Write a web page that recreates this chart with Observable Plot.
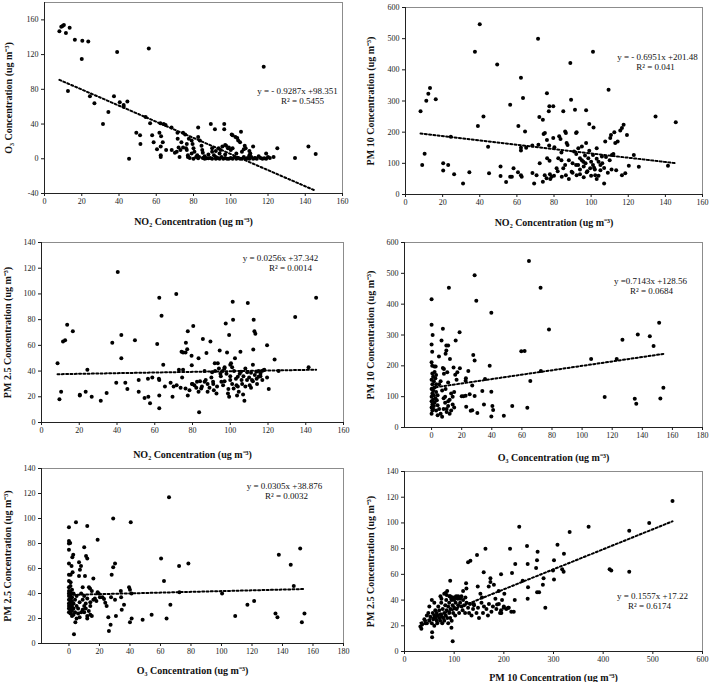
<!DOCTYPE html>
<html>
<head>
<meta charset="utf-8">
<script src="https://cdn.jsdelivr.net/npm/d3@7"></script>
<script src="https://cdn.jsdelivr.net/npm/@observablehq/plot@0.6"></script>
<style>
  body { margin: 0; background: white; }
  #fig { position: relative; width: 710px; height: 682px; background: white; }
  #fig > svg { position: absolute; overflow: visible; }
  #fig text { font-family: "Liberation Serif", "Times New Roman", Times, serif; }
</style>
</head>
<body>
<div id="fig"></div>
<script>
// ---------- DATA ----------
const no2_o3 = [[8,147],[9,152],[9.7,153],[10.4,154],[11.5,145],[13.5,151],[16.3,137],[20.3,136],[23.5,135],[20,115],[39,123],[56,127],[117.7,106],[12.6,78],[24.4,72],[26.8,64],[37.3,72],[40.4,65],[42.5,62],[42.5,60],[44.5,66],[34.3,54],[54.3,48],[56.7,41],[31.4,40],[49.3,30],[51.3,27],[51.5,17],[45.4,0],[57.8,27],[58.6,19],[60.4,11],[61.7,30],[62.6,26],[62.4,14],[62.4,4],[62.4,2],[63.5,19],[65.3,10],[62.2,41],[64,40],[65,39],[68.2,36],[68.3,10],[70,7],[71.4,30],[71.5,23],[72,13],[72.5,2],[73.5,19],[74.4,13],[74.4,30],[75.5,28],[76.4,17],[76.4,10],[77,4],[77,2],[77.5,23],[79,21],[79.5,17],[80,12],[80.5,8],[81.4,2],[82.5,0.5],[82.5,36],[82.5,25],[83.4,21],[84.3,15],[84.7,10],[86,3],[87,0.5],[88,0.5],[89.3,40],[91.5,34],[90,8],[91,4],[92,2],[93.5,12],[94.5,10],[95.5,14],[96.5,40],[96.5,34],[97,16],[97.5,15],[98.5,12],[100.5,28],[101,27],[102.5,25],[103.5,24],[104,21],[105,19],[105.5,31],[107,11],[107.5,15],[110,4],[110.5,6],[113,0.5],[115,3],[118,0.5],[119,6],[125,12],[134.5,1],[141.7,14],[145.6,5.5],[78,1],[80,0],[83,2],[85,1],[86,0],[89,1],[90,0],[92,0],[93,1],[94,0],[95,2],[96,0],[97,1],[98,0],[99,0],[100,1],[101,0],[102,2],[103,0],[104,1],[105,0],[106,0],[107,2],[108,0],[109,1],[110,0],[111,2],[112,0],[113,1],[114,0],[116,1],[117,0],[119,0],[120,2],[121,1],[123,2],[88,5],[90,12],[92,9],[94,6],[99,13],[100,10],[101,12],[103,6],[106,8],[108,12],[110,9],[112,14],[97,5],[85,7],[82,4],[79,6],[76,12],[73,10],[71,8]];

const no2_pm10 = [[8.1,267],[9,95],[10.3,131],[11.2,301],[12.3,323],[13.2,342],[16.3,306],[20.3,100],[20.3,77],[23,95],[24.4,185],[26.2,65],[31,35],[34.4,71],[37.4,458],[40,546],[39,220],[42,250],[44.5,153],[45,68],[49.4,417],[51.2,90],[51.2,59],[54.2,40],[56.4,288],[56.4,57],[57.3,57],[58.2,84],[60.6,71],[60.8,220],[62.2,375],[62.2,150],[62.2,141],[62.2,62],[62.6,57],[63.3,310],[64.4,202],[65,150],[71.4,500],[68.4,69],[69.3,35],[70.6,62],[72.1,249],[72.3,100],[74,240],[71.6,160],[68.3,157],[74.4,194],[75.1,197],[76.2,325],[76.2,175],[77.4,157],[77.2,267],[77.5,283],[79.6,283],[76.3,116],[77.6,108],[74,41],[75,62],[76,52],[77.8,65],[78.7,57],[79.6,181],[80.2,152],[81.4,84],[82.3,116],[82.8,187],[83.5,178],[84,135],[85,267],[86,202],[86.4,197],[86.8,165],[87.3,159],[85,84],[84.2,57],[86.4,62],[89.2,304],[88.8,422],[89.5,73],[90.8,138],[91.3,272],[91.9,197],[92.2,200],[91.9,95],[92.2,62],[93.1,148],[94,116],[95,154],[95.8,105],[96.7,125],[97.3,270],[97.3,165],[97.6,71],[98.5,116],[99,226],[99.5,84],[101,127],[101.3,215],[101,458],[101.6,86],[102.2,62],[103,148],[104,105],[105,78],[105.8,122],[107,35],[107.6,170],[109.4,336],[110.3,181],[110.7,191],[111.2,127],[112.5,200],[113,165],[113.5,78],[114.3,170],[115.7,205],[116.6,213],[117.5,224],[116.6,62],[118.4,68],[119.3,191],[120.3,92],[123,127],[125.7,89],[134.7,250],[141.4,92],[145.6,232],[88,110],[90,100],[92,130],[93,95],[94,80],[95,110],[96,90],[97,100],[98,75],[99,140],[100,105],[101,95],[102,80],[103,115],[104,60],[105,95],[106,100],[107,85],[108,120],[109,70],[110,110],[111,80],[112,130],[100,60],[103,50],[96,55],[94,65],[90,70],[88,50],[86,95],[84,110],[82,75],[80,60],[78,50]];

const no2_pm25 = [[8.5,46],[9.5,18],[10.4,24],[11.4,63],[12.5,64],[13.6,76],[16.6,71],[20.3,21.5],[20.3,21],[23.4,24],[24.3,41],[26.6,20],[31.4,17],[34.5,23],[37.5,62],[39.6,31],[40.4,117],[42.3,68],[42.3,50],[44.4,31],[45.5,26],[49.5,64],[51.5,33],[51.5,24],[54.6,19],[56.6,20],[56.4,34],[57.5,15],[58.7,35],[61.3,61],[62.2,34],[62.4,97],[62.4,33],[62.4,21],[62.4,11],[63.6,83],[64.5,45],[65.4,28],[68.4,31],[69.4,20],[71.4,100],[70,28],[71.6,29],[72.8,41],[73.7,27],[74.2,55],[75,54.5],[76.3,54.5],[76.5,62],[77.2,57],[77.5,71],[75,41],[74.5,35],[76.3,26.5],[77.5,21],[78.4,25],[79.5,52],[79.6,44.6],[80.4,75],[79.7,30],[81,29],[82.4,31.6],[83.2,50],[83.5,8],[83.2,24],[84.6,26.4],[85.5,65],[86.4,40],[86.4,31.6],[87.4,54],[88,24],[89.5,63],[90.4,39],[90.9,31.6],[91.3,25],[91.8,46],[92.7,22.6],[93.4,46],[94.4,56],[94.8,38],[95.3,31.6],[96.2,29],[96.9,42],[97.6,77],[98.3,54.4],[98.8,22.6],[99.4,68],[99.4,20],[100,33],[100.4,46],[101,43],[101.3,94],[101.5,80],[101.8,26.4],[102.5,50],[103.3,29],[103.6,21],[104,35.5],[104.5,24],[105.4,55],[105.7,39.4],[106.3,30],[106.8,21.8],[107.5,17],[108,42],[108.9,33],[109.3,93],[110.3,29],[111,38.6],[111.5,33],[112,45],[112.2,56.8],[112.4,80],[112.8,71],[113.3,69],[113.8,39.4],[114.2,30],[115,35.5],[116,38],[116.8,40],[117.7,40.7],[119.5,60],[119.5,35],[120.4,26],[123.5,49],[125.6,40],[134.4,82],[141.5,43],[145.5,97],[88,30],[90,35],[92,40],[93,28],[95,36],[96,40],[97,32],[98,38],[99,26],[100,36],[101,30],[102,40],[103,34],[104,28],[105,38],[106,33],[107,36],[108,28],[109,39],[110,35],[111,27],[112,32],[113,37],[114,34],[115,40],[116,36],[117,33],[118,41],[100,45],[97,43],[94,42],[91,30],[89,27],[87,33],[85,28],[84,32],[82,27],[80,30]];

const o3_pm10 = [[0,416],[0,333],[0,269],[0.7,300],[0.4,246],[0,212],[0.4,200],[1.8,198],[2.7,198],[4.9,230],[7.5,320],[6.6,282],[7.5,193],[8.2,190],[8.2,174],[9.3,239],[9.8,250],[9.8,266],[11,266],[11,146],[12.2,222],[11.5,453],[9.3,125],[10.4,179],[14.6,195],[15.7,171],[16,282],[17.1,179],[16.6,155],[18.6,309],[18.8,192],[20,101],[21.1,101],[22.6,152],[22.8,160],[22.6,103],[23,67],[24.4,183],[25.3,108],[26,54],[27,56],[27,136],[27.7,235],[28.6,217],[28.6,102],[28.6,494],[29.7,411],[30.4,47],[33.7,118],[34.8,75],[35.5,157],[38.6,200],[39.7,372],[39.7,36],[39.7,116],[40.4,70],[40.9,57],[48,38],[53.6,70],[59.6,247],[61.8,248],[64.7,540],[63.6,64],[72.4,453],[72.6,183],[65.6,151],[78,318],[106,222],[115,99],[123,222],[126.8,285],[137,302],[135,93],[136,77],[145,296],[147.5,264],[151.2,340],[152,94],[154,129],[0,45],[0.5,55],[1,60],[0,65],[1.5,70],[0.5,75],[2,80],[0,85],[1,90],[2.5,95],[0,100],[1.5,105],[0.5,110],[3,115],[1,120],[0,125],[2,130],[0.5,140],[1.5,150],[0,155],[2.5,160],[1,165],[3,170],[0.5,175],[2,180],[3.5,88],[4,72],[3,140],[4,105],[5,60],[6,45],[7,35],[8,95],[9,80],[10,60],[11,70],[12,90],[13,55],[14,100],[15,65],[5,140],[7,120],[9,100],[11,85],[13,110],[15,115],[12,45],[14,75],[4,40],[3,55],[6,150],[8,60],[10,50]];

const o3_pm25 = [[0,93],[0,82],[0,80],[0.8,80.5],[0,75],[0,64],[0,55],[1.1,55],[1.1,49],[1.7,62],[2.2,69],[2.8,71],[2.4,57],[4.6,97],[3.3,7.5],[4.2,17],[6.6,54],[6.6,65],[7.2,59],[7.9,62],[10,77],[10.5,54],[11.2,70],[12,94],[12,68],[13.1,45],[13.8,44],[16,52],[18.8,83],[18.8,41],[19.5,40],[20.3,37],[22,37],[23,35.6],[23.8,32.6],[24.7,30],[25.8,21],[26.2,10],[27.3,15],[27.6,37],[28,55],[29,61],[29,100],[30.2,64],[30.2,35],[30.8,22],[34,42],[34.2,37],[34.6,27],[36.1,31],[39.4,45],[40,43],[40.5,97],[40,17],[41.1,20],[41,40],[48.3,19],[54.2,23],[60.4,68],[62.3,50],[64,20],[65.6,117],[66.5,31],[72.2,62],[72.4,41],[78.3,64],[100.4,40],[109,22],[117,31],[121.4,34],[135.4,24],[136.7,21],[137.6,71],[145.4,63],[147.4,46],[151.6,76],[152.7,17],[154.4,24],[0,25],[0,28],[0,30],[0,32],[0,35],[0,38],[0,40],[0,42],[0,45],[1,24],[1,27],[1,29],[1,31],[1,33],[1,36],[1,39],[1,41],[2,26],[2,30],[2,34],[2,37],[2,43],[3,28],[3,32],[3,40],[4,25],[4,35],[5,30],[5,38],[0,50],[1,46],[2,22],[3,23],[6,28],[7,33],[8,25],[9,35],[10,30],[11,28],[12,22],[13,26],[14,30],[15,22],[16,35],[8,40],[9,45],[10,38],[11,32],[12,36],[14,33],[15,42],[17,36],[18,34],[6,24],[5,20],[7,21],[9,27],[10,25],[12,20],[14,23]];

const pm10_pm25 = [[32,19.4],[34,17.6],[35.5,21],[55.6,15],[55.6,11],[97,8],[94.5,18.4],[539.6,117],[492.7,100],[452.5,94],[452.5,62],[413,64],[416.3,63],[370.7,97],[332.5,93],[308,83],[321,76],[301,71],[301,56],[299,63],[317.5,64],[320.4,62],[283.5,34],[280,57],[278.6,52],[266.8,71],[268,77.6],[265,65],[267,46],[271,46],[246.7,82],[248,68],[248.7,50],[248,41],[238,55],[231,97],[223,68],[222,40],[220,31],[212.5,80],[216.5,61],[208.5,34],[199.8,34],[201,45],[196.4,40],[194.4,60],[194.4,32],[192.4,30],[189.7,47],[186.4,36.5],[183,41],[180,52],[173,57],[173,54],[169.6,50.5],[163,80],[159.5,61.6],[156,42],[152.8,45],[147.5,50.5],[146,75],[139.4,37],[132.7,70.6],[128,69.4],[124,53],[124.7,49],[122.7,42],[118,47],[114.6,43],[109.3,41.7],[102.6,42],[96,42],[94,41],[90.5,43],[86,47],[82.5,45.5],[74.4,41],[72.4,43],[92,55],[40,25],[42,22],[45,28],[48,30],[50,24],[52,27],[55,22],[57,30],[58,25],[60,28],[60,20],[62,32],[63,26],[65,24],[65,30],[66,22],[67,28],[68,35],[70,26],[70,32],[72,24],[73,29],[74,38],[75,27],[76,22],[77,33],[78,26],[80,30],[80,24],[82,36],[83,28],[84,40],[85,32],[86,26],[88,35],[88,22],[90,38],[90,30],[92,26],[93,33],[95,40],[95,24],[97,36],[98,30],[100,34],[100,40],[102,28],[103,38],[105,33],[107,41],[108,36],[110,30],[112,38],[113,42],[115,35],[117,32],[118,40],[120,36],[122,30],[125,38],[128,34],[130,30],[132,37],[135,28],[138,33],[140,36],[145,30],[148,34],[150,26],[155,38],[158,30],[160,35],[165,33],[168,28],[170,37],[175,31],[178,35],[185,33],[190,37],[195,30],[200,35],[205,33],[210,34],[215,31],[92,43],[96,42],[100,42],[104,43],[108,43],[112,41],[60,38],[55,40],[50,35],[45,22],[85,44],[80,45]];

const slopes = [-0.9287, -0.6951, 0.0256, 0.7143, 0.0305, 0.1557];
const intercepts = [98.351, 201.48, 37.342, 128.56, 38.876, 17.22];
const equations = ["y = - 0.9287x +98.351", "y = - 0.6951x +201.48", "y = 0.0256x +37.342", "y =0.7143x +128.56", "y = 0.0305x +38.876", "y = 0.1557x +17.22"];
const rSquared = ["R² = 0.5455", "R² = 0.041", "R² = 0.0014", "R² = 0.0684", "R² = 0.0032", "R² = 0.6174"];
const xLabels = ["NO₂ Concentration (ug m⁻³)", "NO₂ Concentration (ug m⁻³)", "NO₂ Concentration (ug m⁻³)", "O₃ Concentration (ug m⁻³)", "O₃ Concentration (ug m⁻³)", "PM 10 Concentration (ug m⁻³)"];
const yLabels = ["O₃ Concentration (ug m⁻³)", "PM 10 Concentration (ug m⁻³)", "PM 2.5 Concentration (ug m⁻³)", "PM 10 Concentration (ug m⁻³)", "PM 2.5 Concentration (ug m⁻³)", "PM 2.5 Concentration (ug m⁻³)"];
const ticksNO2 = [0, 20, 40, 60, 80, 100, 120, 140, 160];
const ticksO3x = [0, 20, 40, 60, 80, 100, 120, 140, 160, 180];
const ticksO3y = [-40, 0, 40, 80, 120, 160];
const ticksPM10 = [0, 100, 200, 300, 400, 500, 600];
const ticksPM25 = [0, 20, 40, 60, 80, 100, 120, 140];

// ---------- LAYOUT ----------
const panels = [
  {data: no2_o3, xd: [0,160], yd: [-40,180], xt: ticksNO2, yt: ticksO3y, left: 0, top: 0, h: 228, m: [2,13,35,44], xo: 28, yo: 36, eq: [253,89], r2: [258,99]},
  {data: no2_pm10, xd: [0,160], yd: [0,600], xt: ticksNO2, yt: ticksPM10, left: 355, top: 0, h: 228, m: [7,8,34,50], xo: 28, yo: 35, eq: [252,50], r2: [250,60]},
  {data: no2_pm25, xd: [0,160], yd: [0,140], xt: ticksNO2, yt: ticksPM25, left: 0, top: 228, h: 228, m: [14,12,34,41], xo: 32, yo: 34, eq: [239,16], r2: [249,26]},
  {data: o3_pm10, xd: [-18,180], yd: [0,600], xt: ticksO3x, yt: ticksPM10, left: 355, top: 228, h: 228, m: [14,8,29,49], xo: 30, yo: 34, eq: [246,39], r2: [247,49]},
  {data: o3_pm25, xd: [-18,180], yd: [0,140], xt: ticksO3x, yt: ticksPM25, left: 0, top: 456, h: 226, m: [12,12,39,41], xo: 27, yo: 34, eq: [243,18], r2: [245,28]},
  {data: pm10_pm25, xd: [0,600], yd: [0,140], xt: ticksPM10, yt: ticksPM25, left: 355, top: 456, h: 226, m: [15,8,31,49], xo: 26, yo: 34, eq: [248,125], r2: [245,135]}
];

const font = "Liberation Serif, Times New Roman, Times, serif";
const fig = document.getElementById("fig");

panels.forEach((p, i) => {
  const pts = p.data.map(([x, y]) => ({x, y}));
  const ext = d3.extent(pts, d => d.x);
  const trend = ext.map(x => ({x, y: slopes[i] * x + intercepts[i]}));
  const [mt, mr, mb, ml] = p.m;
  const chart = Plot.plot({
    width: 355,
    height: p.h,
    marginTop: mt, marginRight: mr, marginBottom: mb, marginLeft: ml,
    x: {domain: p.xd},
    y: {domain: p.yd},
    style: {fontFamily: font, fontSize: "8px", background: "transparent", color: "#1a1a1a", overflow: "visible"},
    marks: [
      Plot.frame({stroke: "#8c8c8c", strokeWidth: 1}),
      Plot.ruleX([p.xd[0]], {stroke: "#222", strokeWidth: 1}),
      Plot.ruleY([p.yd[0]], {stroke: "#222", strokeWidth: 1}),
      Plot.axisX({ticks: p.xt, tickSize: 3, tickPadding: 2, tickFormat: d => String(d), label: null, fontSize: 8, fontFamily: font}),
      Plot.axisY({ticks: p.yt, tickSize: 3, tickPadding: 3, tickFormat: d => String(d), label: null, fontSize: 8, fontFamily: font}),
      Plot.dot(pts, {x: "x", y: "y", r: 2, fill: "#000", stroke: "none"}),
      Plot.line(trend, {x: "x", y: "y", stroke: "#000", strokeWidth: 2, strokeDasharray: "2,2.3"}),
      Plot.text([equations[i]], {text: d => d, frameAnchor: "top-left", dx: p.eq[0], dy: p.eq[1], textAnchor: "middle", lineAnchor: "middle", fontSize: 9, fontFamily: font, fill: "#111"}),
      Plot.text([rSquared[i]], {text: d => d, frameAnchor: "top-left", dx: p.r2[0], dy: p.r2[1], textAnchor: "middle", lineAnchor: "middle", fontSize: 9, fontFamily: font, fill: "#111"}),
      Plot.text([xLabels[i]], {text: d => d, frameAnchor: "bottom", dy: p.xo, textAnchor: "middle", lineAnchor: "middle", fontSize: 10, fontWeight: "bold", fontFamily: font, fill: "#111"}),
      Plot.text([yLabels[i]], {text: d => d, frameAnchor: "left", dx: -p.yo, rotate: -90, textAnchor: "middle", lineAnchor: "middle", fontSize: 10, fontWeight: "bold", fontFamily: font, fill: "#111"})
    ]
  });
  chart.style.left = p.left + "px";
  chart.style.top = p.top + "px";
  fig.appendChild(chart);
});
</script>
</body>
</html>
